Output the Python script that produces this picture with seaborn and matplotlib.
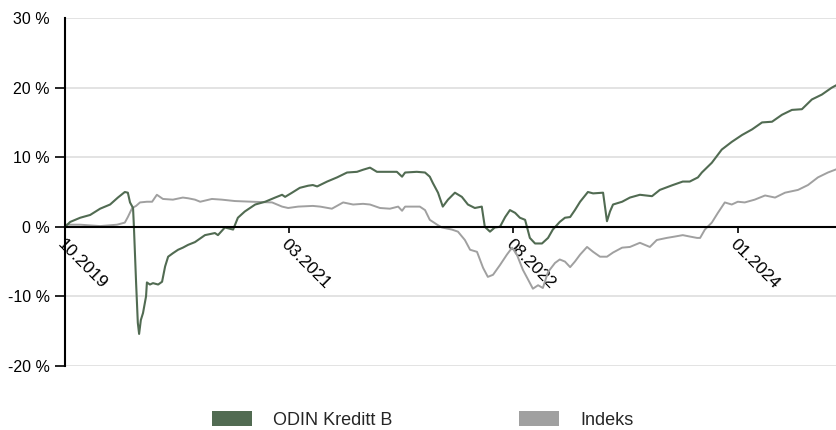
import matplotlib
matplotlib.use('Agg')
import matplotlib.pyplot as plt
from matplotlib.patches import Patch
from matplotlib.ticker import FuncFormatter
import matplotlib.dates as mdates
import seaborn as sns
import pandas as pd

# ODIN Kreditt B, cumulative return in %
fund_dates = [
    "2019-10-01", "2019-10-13", "2019-11-05", "2019-11-28", "2019-12-21", "2020-01-13",
    "2020-01-31", "2020-02-16", "2020-02-23", "2020-02-28", "2020-03-06", "2020-03-08",
    "2020-03-13", "2020-03-17", "2020-03-20", "2020-03-24", "2020-03-29", "2020-04-05",
    "2020-04-07", "2020-04-14", "2020-04-21", "2020-05-03", "2020-05-12", "2020-05-19",
    "2020-05-26", "2020-06-06", "2020-06-18", "2020-06-29", "2020-07-11", "2020-07-27",
    "2020-08-19", "2020-09-11", "2020-09-18", "2020-10-04", "2020-10-23", "2020-11-03",
    "2020-11-19", "2020-12-13", "2021-01-05", "2021-01-28", "2021-02-13", "2021-02-20",
    "2021-03-08", "2021-03-26", "2021-04-14", "2021-04-25", "2021-05-05", "2021-05-28",
    "2021-06-20", "2021-07-13", "2021-08-05", "2021-08-19", "2021-09-04", "2021-09-20",
    "2021-10-13", "2021-11-05", "2021-11-17", "2021-11-24", "2021-12-21", "2022-01-09",
    "2022-01-20", "2022-01-27", "2022-02-08", "2022-02-19", "2022-03-03", "2022-03-19",
    "2022-04-04", "2022-04-18", "2022-05-04", "2022-05-20", "2022-05-27", "2022-06-08",
    "2022-06-19", "2022-07-01", "2022-07-13", "2022-07-24", "2022-08-05", "2022-08-16",
    "2022-08-28", "2022-09-08", "2022-09-20", "2022-10-06", "2022-10-20", "2022-10-31",
    "2022-11-16", "2022-11-28", "2022-12-10", "2022-12-21", "2023-01-02", "2023-01-20",
    "2023-02-01", "2023-02-24", "2023-03-05", "2023-03-12", "2023-03-19", "2023-04-09",
    "2023-04-27", "2023-05-20", "2023-06-17", "2023-07-05", "2023-08-04", "2023-08-27",
    "2023-09-12", "2023-10-01", "2023-10-10", "2023-11-02", "2023-11-25", "2023-12-18",
    "2024-01-11", "2024-02-03", "2024-02-26", "2024-03-20", "2024-04-12", "2024-05-05",
    "2024-05-28", "2024-06-20", "2024-07-13", "2024-08-05", "2024-08-17",
]
fund_values = [
    0.0, 0.7, 1.3, 1.7, 2.6, 3.2,
    4.2, 5.0, 4.9, 3.5, 2.7, 0.0,
    -8.0, -13.8, -15.4, -13.4, -12.4, -10.0,
    -8.0, -8.3, -8.1, -8.3, -7.9, -5.7,
    -4.3, -3.8, -3.3, -3.0, -2.6, -2.2,
    -1.2, -0.9, -1.2, -0.1, -0.4, 1.3,
    2.2, 3.2, 3.6, 4.2, 4.6, 4.3,
    4.9, 5.6, 5.9, 6.0, 5.8, 6.5,
    7.1, 7.8, 7.9, 8.2, 8.5, 7.9,
    7.9, 7.9, 7.2, 7.8, 7.9, 7.8,
    7.2, 6.3, 4.9, 2.9, 3.9, 4.9,
    4.3, 3.2, 2.7, 2.9, 0.0, -0.7,
    -0.1, 0.0, 1.4, 2.4, 2.0, 1.3,
    1.0, -1.6, -2.4, -2.4, -1.6, -0.4,
    0.7, 1.3, 1.4, 2.4, 3.6, 5.0,
    4.8, 4.9, 0.8, 2.2, 3.2, 3.6,
    4.2, 4.6, 4.4, 5.3, 6.0, 6.5,
    6.5, 7.1, 7.8, 9.2, 11.1, 12.2,
    13.2, 14.0, 15.0, 15.1, 16.1, 16.8,
    16.9, 18.3, 19.0, 20.0, 20.4,
]

# Indeks, cumulative return in %
index_dates = [
    "2019-10-01", "2019-11-05", "2019-12-21", "2020-01-29", "2020-02-16", "2020-02-23",
    "2020-03-04", "2020-03-13", "2020-03-22", "2020-04-07", "2020-04-19", "2020-04-30",
    "2020-05-14", "2020-06-06", "2020-06-29", "2020-07-11", "2020-07-27", "2020-08-08",
    "2020-09-04", "2020-09-27", "2020-10-27", "2020-12-06", "2021-01-21", "2021-02-13",
    "2021-02-27", "2021-03-22", "2021-04-25", "2021-05-12", "2021-06-08", "2021-07-04",
    "2021-07-27", "2021-08-19", "2021-09-04", "2021-09-27", "2021-10-20", "2021-11-08",
    "2021-11-17", "2021-11-24", "2021-12-28", "2022-01-09", "2022-01-20", "2022-02-06",
    "2022-02-17", "2022-03-12", "2022-03-26", "2022-04-11", "2022-04-23", "2022-05-09",
    "2022-05-23", "2022-06-03", "2022-06-15", "2022-07-01", "2022-07-17", "2022-07-29",
    "2022-08-09", "2022-08-23", "2022-09-04", "2022-09-15", "2022-09-27", "2022-10-08",
    "2022-10-20", "2022-11-05", "2022-11-16", "2022-11-28", "2022-12-10", "2022-12-21",
    "2023-01-02", "2023-01-18", "2023-02-01", "2023-02-17", "2023-03-05", "2023-03-19",
    "2023-04-09", "2023-04-27", "2023-05-20", "2023-06-12", "2023-06-28", "2023-07-21",
    "2023-08-09", "2023-08-27", "2023-09-12", "2023-09-29", "2023-10-06", "2023-10-17",
    "2023-11-02", "2023-11-16", "2023-12-02", "2023-12-18", "2024-01-01", "2024-01-17",
    "2024-02-09", "2024-03-04", "2024-03-27", "2024-04-19", "2024-05-19", "2024-06-11",
    "2024-07-04", "2024-07-27", "2024-08-17",
]
index_values = [
    0.3, 0.3, 0.1, 0.3, 0.6, 1.4,
    2.7, 3.0, 3.5, 3.6, 3.6, 4.6,
    4.0, 3.9, 4.2, 4.1, 3.9, 3.6,
    4.0, 3.9, 3.7, 3.6, 3.5, 2.9,
    2.7, 2.9, 3.0, 2.9, 2.6, 3.5,
    3.2, 3.3, 3.2, 2.7, 2.6, 2.9,
    2.3, 2.9, 2.9, 2.4, 1.0, 0.3,
    -0.1, -0.4, -0.7, -1.9, -3.3, -3.6,
    -5.9, -7.2, -6.9, -5.5, -4.0, -3.0,
    -4.0, -6.2, -7.6, -8.9, -8.4, -8.8,
    -6.5, -5.2, -4.7, -5.0, -5.8, -5.0,
    -4.0, -2.9, -3.6, -4.3, -4.3, -3.7,
    -3.0, -2.9, -2.3, -2.9, -1.9, -1.6,
    -1.4, -1.2, -1.4, -1.6, -1.6, -0.4,
    0.6, 2.0, 3.5, 3.2, 3.6, 3.5,
    3.9, 4.5, 4.2, 4.9, 5.3, 6.0,
    7.1, 7.8, 8.3,
]

tick_dates = ["2019-10-01", "2021-03-01", "2022-08-01", "2024-01-01"]
y_ticks = [-20, -10, 0, 10, 20, 30]
series_names = ["ODIN Kreditt B", "Indeks"]
colors = ["#516b52", "#a0a0a0"]

sns.set_style("white")
plt.rcParams['font.family'] = ['Liberation Sans', 'DejaVu Sans']

fund = pd.DataFrame({"date": pd.to_datetime(fund_dates), "value": fund_values})
index = pd.DataFrame({"date": pd.to_datetime(index_dates), "value": index_values})

fig = plt.figure(figsize=(8.37, 4.30), dpi=100)
ax = fig.add_axes([0.0777, 0.149, 0.9223, 0.809])

sns.lineplot(data=index, x="date", y="value", ax=ax, color=colors[1], linewidth=1.4)
sns.lineplot(data=fund, x="date", y="value", ax=ax, color=colors[0], linewidth=1.5)

ax.set_xlim(fund["date"].iloc[0], fund["date"].iloc[-1])
ax.set_ylim(-20, 30)
ax.set_yticks(y_ticks)
ax.yaxis.set_major_formatter(FuncFormatter(lambda v, p: f"{v:.0f} %"))
ax.set_xticks(pd.to_datetime(tick_dates))
ax.xaxis.set_major_formatter(mdates.DateFormatter("%m.%Y"))
ax.set_xlabel("")
ax.set_ylabel("")

ax.grid(axis="y", color="#dedede", linewidth=1.2)
ax.grid(axis="x", visible=False)
for side in ["top", "right"]:
    ax.spines[side].set_visible(False)
ax.spines["bottom"].set_position(("data", 0))
ax.spines["bottom"].set_color("black")
ax.spines["bottom"].set_linewidth(1.5)
ax.spines["left"].set_color("black")
ax.spines["left"].set_linewidth(1.5)

ax.tick_params(axis="y", left=True, length=7, width=1.2, pad=4, labelsize=11.5, colors="black")
ax.tick_params(axis="x", bottom=True, length=4, width=1.2, pad=3, labelsize=12.5, colors="black")
ax.yaxis.get_major_ticks()[-1].tick1line.set_visible(False)
for lbl in ax.get_xticklabels():
    lbl.set_rotation(-45)
    lbl.set_rotation_mode("anchor")
    lbl.set_ha("left")
    lbl.set_va("top")

handles = [Patch(facecolor=c, edgecolor="none") for c in colors]
fig.legend(handles, series_names, loc="center", bbox_to_anchor=(0.505, 0.024), ncol=2,
           frameon=False, fontsize=13, handlelength=2.2, handleheight=0.9,
           handletextpad=1.2, columnspacing=7.0, borderpad=0)

fig.savefig("out.png", dpi=100)
